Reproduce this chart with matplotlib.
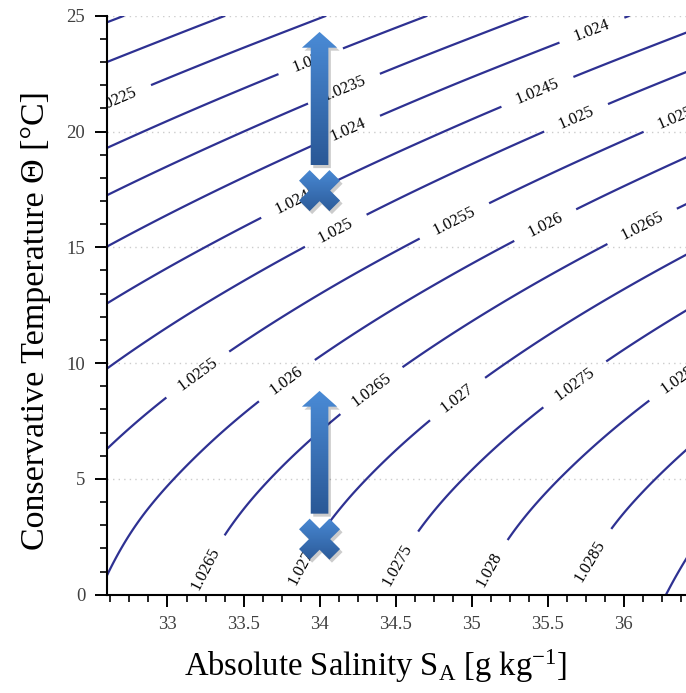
import numpy as np
import matplotlib
matplotlib.use("Agg")
import matplotlib.pyplot as plt
import matplotlib.tri as mtri
import matplotlib.transforms as mtransforms
from matplotlib.patches import Polygon
from matplotlib.colors import LinearSegmentedColormap
from matplotlib.ticker import MultipleLocator, FuncFormatter

# ---------------- data ----------------
# Absolute Salinity grid [g/kg]
salinity = [32.5, 33.0, 33.5, 34.0, 34.5, 35.0, 35.5, 36.0, 36.5]
# Conservative Temperature grid [deg C]
temperature = [0.0, 2.5, 5.0, 7.5, 10.0, 12.5, 15.0, 17.5, 20.0, 22.5, 25.0]
# density anomaly (rho - 1000) [kg/m3]; one row per temperature
sigma = [
    [25.965, 26.367, 26.768, 27.170, 27.572, 27.974, 28.376, 28.777, 29.179],
    [25.809, 26.207, 26.605, 27.003, 27.401, 27.799, 28.197, 28.595, 28.993],
    [25.573, 25.967, 26.362, 26.756, 27.151, 27.545, 27.940, 28.335, 28.729],
    [25.262, 25.653, 26.045, 26.436, 26.827, 27.219, 27.610, 28.002, 28.394],
    [24.882, 25.270, 25.658, 26.047, 26.435, 26.824, 27.213, 27.602, 27.991],
    [24.436, 24.822, 25.207, 25.593, 25.979, 26.365, 26.752, 27.138, 27.524],
    [23.929, 24.312, 24.695, 25.079, 25.462, 25.846, 26.230, 26.614, 26.998],
    [23.363, 23.744, 24.125, 24.506, 24.888, 25.269, 25.651, 26.033, 26.414],
    [22.741, 23.120, 23.499, 23.879, 24.258, 24.638, 25.017, 25.397, 25.777],
    [22.066, 22.443, 22.821, 23.198, 23.576, 23.954, 24.331, 24.709, 25.087],
    [21.340, 21.715, 22.091, 22.467, 22.843, 23.219, 23.595, 23.971, 24.348],
]
# contour levels (density, g/cm3)
levels = [1.0215, 1.022, 1.0225, 1.023, 1.0235, 1.024, 1.0245, 1.025,
          1.0255, 1.026, 1.0265, 1.027, 1.0275, 1.028, 1.0285, 1.029]
# approximate places of the inline contour labels (S, T)
label_positions = [
    (32.64, 21.6), (33.95, 22.9), (34.17, 21.7), (34.18, 20.2), (35.79, 24.4),
    (33.84, 17.1), (35.44, 21.6), (34.10, 15.8), (35.68, 20.7), (36.37, 20.6),
    (34.89, 16.1), (33.20, 9.5), (35.45, 16.4), (33.79, 9.2), (36.06, 16.7),
    (34.40, 8.3), (33.25, 1.1), (34.96, 8.0), (35.71, 8.8), (34.50, 1.35),
    (36.35, 9.3), (33.87, 1.2), (35.16, 0.93), (35.80, 1.35),
]
# water parcels (S, T) and their warming arrows (S, start T, end T)
parcels = [(34.0, 17.45), (34.0, 2.4)]
arrows = [(34.0, 18.55, 24.3), (34.0, 3.5, 8.8)]

# ---------------- style ----------------
plt.rcParams['font.family'] = ['Liberation Serif', 'DejaVu Serif']
plt.rcParams['mathtext.fontset'] = 'custom'
plt.rcParams['mathtext.rm'] = 'Liberation Serif'
plt.rcParams['mathtext.it'] = 'Liberation Serif:italic'

LINE_COLOR = '#2e3192'
dark_blue, light_blue = '#2a5896', '#4a8bd6'
grad_cmap = LinearSegmentedColormap.from_list('grad', [dark_blue, light_blue])

fig = plt.figure(figsize=(6.86, 6.93), dpi=100)
ax = fig.add_axes([0.1555, 0.1418, 0.8445, 0.8355])
XLIM = (32.6, 36.41)
YLIM = (0, 25)
ax.set_xlim(*XLIM)
ax.set_ylim(*YLIM)

# ---------------- contours ----------------
S_grid, T_grid = np.meshgrid(salinity, temperature)
rho = 1.0 + np.array(sigma) / 1000.0
triang = mtri.Triangulation(S_grid.ravel(), T_grid.ravel())
interp = mtri.CubicTriInterpolator(triang, rho.ravel(), kind='min_E')
refiner = mtri.UniformTriRefiner(triang)
tri_f, rho_f = refiner.refine_field(rho.ravel(), triinterpolator=interp, subdiv=4)

cs = ax.tricontour(tri_f, rho_f, levels=levels, colors=LINE_COLOR,
                   linewidths=1.6, zorder=2)
ax.clabel(cs, fmt='%g', manual=label_positions, inline=True,
          inline_spacing=16, fontsize=12, colors='black')
ax.set_xlim(*XLIM)
ax.set_ylim(*YLIM)

# ---------------- arrows ----------------
SHAFT_HW = 0.058   # S units
HEAD_HW = 0.116
HEAD_LEN = 0.68    # deg C

shadow_off = mtransforms.Affine2D().translate(2.5, -3)
for (x, y0, y1) in arrows:
    verts = [(x - SHAFT_HW, y0), (x + SHAFT_HW, y0), (x + SHAFT_HW, y1 - HEAD_LEN),
             (x + HEAD_HW, y1 - HEAD_LEN), (x, y1), (x - HEAD_HW, y1 - HEAD_LEN),
             (x - SHAFT_HW, y1 - HEAD_LEN)]
    shadow = Polygon(verts, closed=True, facecolor='black', alpha=0.2,
                     edgecolor='none', transform=ax.transData + shadow_off, zorder=4)
    ax.add_patch(shadow)
    poly = Polygon(verts, closed=True, facecolor='none', edgecolor='none',
                   transform=ax.transData, zorder=5)
    ax.add_patch(poly)
    im = ax.imshow(np.linspace(0, 1, 256).reshape(-1, 1), cmap=grad_cmap,
                   extent=[x - HEAD_HW, x + HEAD_HW, y0, y1], origin='lower',
                   aspect='auto', zorder=5, interpolation='bilinear')
    im.set_clip_path(poly)

# ---------------- cross markers (pixel sized) ----------------
half_t = 7.5
arm = 21.5
plus = [(half_t, half_t), (arm, half_t), (arm, -half_t), (half_t, -half_t),
        (half_t, -arm), (-half_t, -arm), (-half_t, -half_t), (-arm, -half_t),
        (-arm, half_t), (-half_t, half_t), (-half_t, arm), (half_t, arm)]
c45 = np.cos(np.pi / 4)
cross = [((px - py) * c45, (px + py) * c45) for px, py in plus]
inv = ax.transData.inverted()
for (cx, cy) in parcels:
    place = mtransforms.ScaledTranslation(cx, cy, ax.transData)
    shadow = Polygon(cross, closed=True, facecolor='black', alpha=0.2, edgecolor='none',
                     transform=mtransforms.Affine2D().translate(2.5, -3) + place, zorder=6)
    ax.add_patch(shadow)
    poly = Polygon(cross, closed=True, facecolor='none', edgecolor='none',
                   transform=mtransforms.Affine2D() + place, zorder=7)
    ax.add_patch(poly)
    p = ax.transData.transform((cx, cy))
    (xa, ya) = inv.transform((p[0] - 23, p[1] - 23))
    (xb, yb) = inv.transform((p[0] + 23, p[1] + 23))
    im = ax.imshow(np.linspace(0, 1, 256).reshape(-1, 1), cmap=grad_cmap,
                   extent=[xa, xb, ya, yb], origin='lower', aspect='auto',
                   zorder=7, interpolation='bilinear')
    im.set_clip_path(poly)

ax.set_xlim(*XLIM)
ax.set_ylim(*YLIM)

# ---------------- axes styling ----------------
for side in ('top', 'right'):
    ax.spines[side].set_visible(False)
for side in ('left', 'bottom'):
    ax.spines[side].set_linewidth(1.5)
ax.xaxis.set_major_locator(MultipleLocator(0.5))
ax.xaxis.set_minor_locator(MultipleLocator(0.125))
ax.yaxis.set_major_locator(MultipleLocator(5))
ax.yaxis.set_minor_locator(MultipleLocator(1))
ax.xaxis.set_major_formatter(FuncFormatter(lambda v, p: f'{v:g}'))
ax.yaxis.set_major_formatter(FuncFormatter(lambda v, p: f'{v:g}'))
ax.tick_params(which='major', direction='out', length=8.5, width=1.4,
               labelsize=13.5, labelcolor='#404040', pad=7)
ax.tick_params(which='minor', direction='out', length=5, width=1.2)
ax.yaxis.grid(True, which='major', linestyle=(0, (1, 3)), color='#cccccc', linewidth=1)
ax.set_axisbelow(True)

ax.set_xlabel(r'Absolute Salinity S$_\mathrm{A}$ [g kg$^\mathrm{-1}$]', fontsize=23.5, labelpad=10)
ax.set_ylabel('Conservative Temperature Θ [°C]', fontsize=24.5, labelpad=11)
ax.xaxis.label.set_x(0.465)
ax.yaxis.label.set_y(0.4735)

fig.savefig('out.png', dpi=100)
